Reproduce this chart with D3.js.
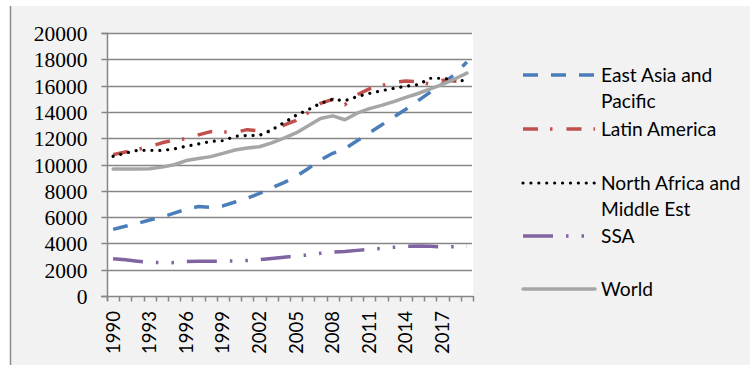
<!DOCTYPE html>
<html>
<head>
<meta charset="utf-8">
<script src="https://cdn.jsdelivr.net/npm/d3@7"></script>
<style>
  html, body { margin: 0; padding: 0; background: #ffffff; }
  svg { display: block; }
</style>
</head>
<body>
<svg id="chart" width="750" height="365"></svg>
<script>
// Categories (years) and tick labels
const years = [1990,1991,1992,1993,1994,1995,1996,1997,1998,1999,2000,2001,2002,2003,2004,
               2005,2006,2007,2008,2009,2010,2011,2012,2013,2014,2015,2016,2017,2018,2019];
const yearLabels = ["1990","1993","1996","1999","2002","2005","2008","2011","2014","2017"];
const yTicks = [0,2000,4000,6000,8000,10000,12000,14000,16000,18000,20000];

// GDP per capita by region
const eastAsia = [5070,5300,5520,5780,6000,6300,6600,6800,6750,6850,7150,7430,7800,8230,8620,
                  9100,9700,10350,10850,11200,11800,12400,13000,13600,14200,14850,15500,16150,16850,17800];
const latinAmerica = [10750,10950,11150,11350,11650,11850,11950,12250,12500,12480,12450,12650,12550,12500,13000,
                      13350,13950,14650,14950,14550,15300,15750,16000,16250,16350,16300,16100,16400,16350,16250];
const northAfricaME = [10620,10870,11080,11080,11070,11180,11390,11560,11760,11810,12140,12210,12220,12620,13180,
                       13740,14170,14650,14960,14850,15160,15410,15610,15790,15950,16070,16560,16560,16430,16350];
const ssa = [2840,2750,2650,2560,2530,2540,2620,2640,2640,2650,2660,2700,2770,2850,2950,
             3050,3120,3250,3330,3380,3470,3550,3620,3700,3780,3800,3780,3740,3750,3760];
const world = [9660,9650,9650,9670,9800,9980,10300,10450,10600,10850,11100,11250,11350,11650,12000,
               12400,12950,13500,13700,13400,13900,14250,14500,14780,15100,15400,15750,16100,16500,16950];

const seriesNames = ["East Asia and|Pacific", "Latin America", "North Africa and|Middle Est", "SSA", "World"];
const seriesValues = [eastAsia, latinAmerica, northAfricaME, ssa, world];

// Line styles per series
const styles = [
  { color: "#4a7ebb", width: 3.5, dash: "15,13", cap: "butt" },
  { color: "#c0504d", width: 3.5, dash: "15,12,2.5,14", cap: "butt" },
  { color: "#000000", width: 3.2, dash: "0.01,7.9", cap: "round" },
  { color: "#8064a2", width: 3.5, dash: "30,13,2.5,13,2.5,13", cap: "butt" },
  { color: "#a6a6a6", width: 3.5, dash: null, cap: "round" }
];

const svg = d3.select("#chart");
const gridColor = "#868686";

// Title (runs off the top edge)
svg.append("text")
  .attr("x", 0).attr("y", -3.5)
  .attr("font-family", "Lato, 'Liberation Sans', sans-serif")
  .attr("font-size", 19).attr("font-weight", "bold")
  .attr("fill", "#000")
  .text("Figure 3: Regional GDP per capita, PPP (constant 2011 international $)");

// Chart area background and left border
svg.append("rect").attr("x", 11).attr("y", 6).attr("width", 739).attr("height", 359).attr("fill", "#f2f2f2");
svg.append("line").attr("x1", 10.5).attr("x2", 10.5).attr("y1", 6).attr("y2", 365)
  .attr("stroke", "#8c8c8c").attr("stroke-width", 1.5);

// Scales
const x = d3.scaleBand().domain(years).range([107, 473]).padding(0);
const y = d3.scaleLinear().domain([0, 20000]).range([296, 33]);

// Plot area
svg.append("rect").attr("x", 107).attr("y", 33).attr("width", 473 - 107).attr("height", 296 - 33).attr("fill", "#ffffff");

// Horizontal gridlines
svg.append("g").selectAll("line").data(yTicks.filter(d => d > 0)).join("line")
  .attr("x1", 107).attr("x2", 472)
  .attr("y1", d => Math.round(y(d)) + 0.5).attr("y2", d => Math.round(y(d)) + 0.5)
  .attr("stroke", gridColor).attr("stroke-width", 1.5);

// Y axis
const yAxis = d3.axisLeft(y).tickValues(yTicks).tickSize(6).tickPadding(14).tickFormat(d3.format("d"));
const gy = svg.append("g").attr("transform", "translate(107.5,0)").call(yAxis);
gy.select(".domain").attr("stroke", gridColor).attr("stroke-width", 1.5).attr("d", "M-6,33.5H0V301");
gy.selectAll(".tick line").attr("stroke", gridColor).attr("stroke-width", 1.5);
gy.selectAll(".tick").attr("transform", d => `translate(0,${Math.round(y(d)) + 0.5})`);
gy.selectAll("text")
  .attr("font-family", "'Liberation Serif', 'DejaVu Serif', serif")
  .attr("font-size", 21.5).attr("fill", "#000").attr("dy", "0.34em");

// X axis: baseline and category boundary ticks
const gx = svg.append("g");
gx.append("line").attr("x1", 101).attr("x2", 473).attr("y1", 296.5).attr("y2", 296.5)
  .attr("stroke", gridColor).attr("stroke-width", 1.5);
const bounds = years.map(d => x(d)).concat([x(years[years.length - 1]) + x.bandwidth()]);
gx.selectAll("line.tk").data(bounds).join("line").attr("class", "tk")
  .attr("x1", d => Math.round(d) + 0.5).attr("x2", d => Math.round(d) + 0.5)
  .attr("y1", 296).attr("y2", 301.5)
  .attr("stroke", gridColor).attr("stroke-width", 1.5);
gx.selectAll("text").data(yearLabels).join("text")
  .attr("transform", d => `translate(${x(+d) + x.bandwidth() / 2 + 6.5},311) rotate(-90)`)
  .attr("text-anchor", "end")
  .attr("font-family", "Lato, 'Open Sans', sans-serif")
  .attr("font-size", 18.5).attr("fill", "#000")
  .text(d => d);

// Series lines
const line = d3.line()
  .x((d, i) => x(years[i]) + x.bandwidth() / 2)
  .y(d => y(d));

svg.append("g").selectAll("path").data(seriesValues).join("path")
  .attr("d", d => line(d))
  .attr("fill", "none")
  .attr("stroke", (d, i) => styles[i].color)
  .attr("stroke-width", (d, i) => styles[i].width)
  .attr("stroke-dasharray", (d, i) => styles[i].dash)
  .attr("stroke-linecap", (d, i) => styles[i].cap)
  .attr("stroke-linejoin", "round");

// Legend
const legendLineY = [75, 129, 183, 236, 289];
const lg = svg.append("g");
seriesNames.forEach((name, i) => {
  const st = styles[i];
  lg.append("line")
    .attr("x1", 523).attr("x2", 595)
    .attr("y1", legendLineY[i]).attr("y2", legendLineY[i])
    .attr("stroke", st.color).attr("stroke-width", st.width)
    .attr("stroke-dasharray", st.dash).attr("stroke-linecap", st.cap);
  name.split("|").forEach((part, j) => {
    lg.append("text")
      .attr("x", 601).attr("y", legendLineY[i] + 6.7 + j * 26.7)
      .attr("font-family", "Lato, 'Open Sans', sans-serif")
      .attr("font-size", 19.2).attr("fill", "#000")
      .text(part);
  });
});
</script>
</body>
</html>
